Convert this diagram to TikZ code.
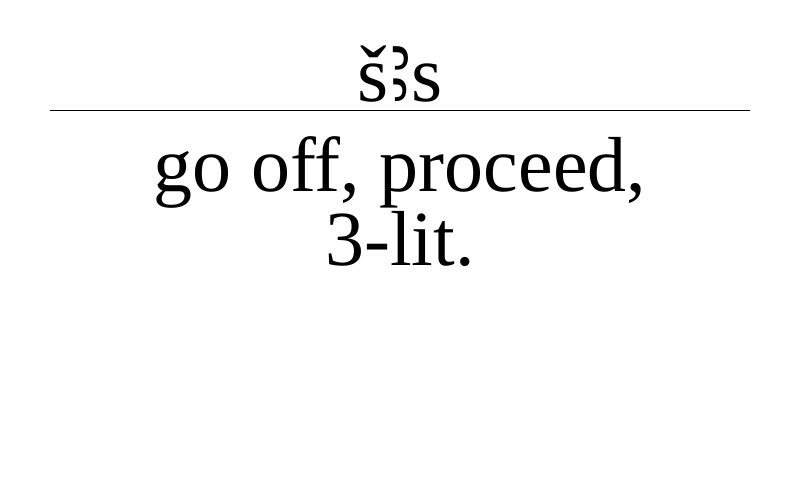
\documentclass[tikz,border=0pt]{standalone}
\usepackage{fontspec}
\setmainfont{Liberation Serif}
\newfontfamily\aleffont[FakeStretch=0.75]{Noto Sans}
\begin{document}
\begin{tikzpicture}[x=1pt,y=1pt,
  big/.style={inner sep=0pt,anchor=base,font=\fontsize{78}{78}\selectfont}]
\useasboundingbox (0,0) rectangle (800,-500);
\node[big,font=\fontsize{80}{80}\selectfont] (head) at (400,-102) {š{\aleffont\fontsize{92}{92}\selectfont ꜣ}s};
\coordinate (rl) at (50,-110);
\coordinate (rr) at (750,-110);
\draw[line width=0.8pt] (rl) -- (rr);
\node[big] (gloss1) at (400,-191) {go off, proceed,};
\node[big] (gloss2) at (400,-265) {3-lit.};
\end{tikzpicture}
\end{document}
